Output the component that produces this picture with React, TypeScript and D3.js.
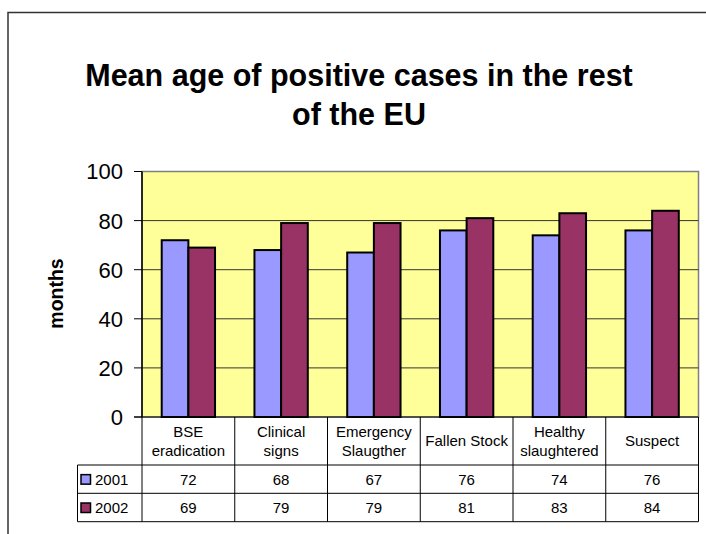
import React from "react";
import * as d3 from "d3";

const categories = [
  ["BSE", "eradication"],
  ["Clinical", "signs"],
  ["Emergency", "Slaugther"],
  ["Fallen Stock"],
  ["Healthy", "slaughtered"],
  ["Suspect"],
];
const seriesNames = ["2001", "2002"];
const values2001 = [72, 68, 67, 76, 74, 76];
const values2002 = [69, 79, 79, 81, 83, 84];
const yTicks = [0, 20, 40, 60, 80, 100];
const colors = ["#9999FF", "#993366"];

export default function App() {
  const W = 706, H = 534;
  const left = 142, right = 698.5, top = 171.5, bottom = 417;
  const y = d3.scaleLinear().domain([0, 100]).range([bottom, top]);
  const keys = categories.map((_, i) => String(i));
  const x = d3.scaleBand().domain(keys).range([left, right]).paddingInner(0.425).paddingOuter(0.2125);
  const xCol = d3.scaleBand().domain(keys).range([left, right]).padding(0);
  const xs = d3.scaleBand().domain(seriesNames).range([0, x.bandwidth()]);
  const series = [values2001, values2002];
  const font = "Arial, 'Liberation Sans', sans-serif";
  const rowTop = [417, 465, 493.3, 521.7];

  return (
    <svg width={W} height={H} style={{ position: "absolute", left: 0, top: 0 }} fontFamily={font}>
      <rect x={0} y={0} width={W} height={H} fill="#fff" />
      <path d={`M8,${H} V12.5 H${W}`} fill="none" stroke="#333" strokeWidth={1.5} />
      <text x={359} y={86} textAnchor="middle" fontSize={30.5} fontWeight="bold">Mean age of positive cases in the rest</text>
      <text x={359} y={125} textAnchor="middle" fontSize={30.5} fontWeight="bold">of the EU</text>

      <rect x={left} y={top} width={right - left} height={bottom - top} fill="#FFFF99" stroke="#808080" strokeWidth={1.5} />
      {yTicks.map((t) => (
        <g key={t}>
          {t > 0 && t < 100 && <line x1={left} x2={right} y1={y(t)} y2={y(t)} stroke="#333" strokeWidth={1} />}
          <line x1={134} x2={left} y1={y(t)} y2={y(t)} stroke="#000" strokeWidth={1} />
          <text x={123} y={y(t)} dy="0.36em" textAnchor="end" fontSize={22}>{t}</text>
        </g>
      ))}

      {series.map((vals, si) =>
        vals.map((v, i) => (
          <rect
            key={`${si}-${i}`}
            x={(x(String(i)) as number) + (xs(seriesNames[si]) as number)}
            y={y(v)}
            width={xs.bandwidth()}
            height={bottom - y(v)}
            fill={colors[si]}
            stroke="#000"
            strokeWidth={2}
          />
        ))
      )}
      <line x1={left} x2={left} y1={top} y2={bottom} stroke="#000" strokeWidth={1.5} />
      <line x1={134} x2={right} y1={bottom} y2={bottom} stroke="#000" strokeWidth={1} />

      <text transform={`translate(63,293.5) rotate(-90)`} textAnchor="middle" fontSize={19.5} fontWeight="bold">months</text>

      <g stroke="#000" strokeWidth={1}>
        {keys.map((k) => (
          <line key={k} x1={xCol(k) as number} x2={xCol(k) as number} y1={bottom} y2={rowTop[3]} />
        ))}
        <line x1={right} x2={right} y1={bottom} y2={rowTop[3]} />
        <line x1={77.5} x2={77.5} y1={rowTop[1]} y2={rowTop[3]} />
        {[1, 2, 3].map((r) => (
          <line key={r} x1={77.5} x2={right} y1={rowTop[r]} y2={rowTop[r]} />
        ))}
      </g>
      {categories.map((lines, i) => {
        const cx = (xCol(String(i)) as number) + xCol.bandwidth() / 2;
        const cy = (rowTop[0] + rowTop[1]) / 2;
        return (
          <text key={i} x={cx} y={cy} textAnchor="middle" fontSize={15}>
            {lines.map((l, j) => (
              <tspan key={j} x={cx} y={cy + (j - (lines.length - 1) / 2) * 19} dy="0.36em">{l}</tspan>
            ))}
          </text>
        );
      })}
      {series.map((vals, si) => {
        const cy = (rowTop[si + 1] + rowTop[si + 2]) / 2;
        return (
          <g key={si}>
            <rect x={81} y={cy - 4.5} width={9.5} height={9.5} fill={colors[si]} stroke="#000" strokeWidth={1.5} />
            <text x={95} y={cy} dy="0.36em" fontSize={15}>{seriesNames[si]}</text>
            {vals.map((v, i) => (
              <text key={i} x={(xCol(String(i)) as number) + xCol.bandwidth() / 2} y={cy} dy="0.36em" textAnchor="middle" fontSize={15}>{v}</text>
            ))}
          </g>
        );
      })}
    </svg>
  );
}
